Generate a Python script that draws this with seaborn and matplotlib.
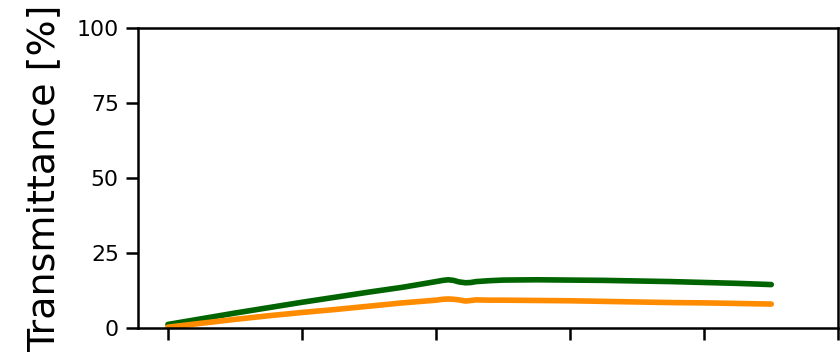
import numpy as np
import pandas as pd
import matplotlib
matplotlib.use("Agg")
import matplotlib.pyplot as plt
import seaborn as sns

# wavelength [nm] and transmittance [%] for the two samples
wavelength = [400, 425, 450, 475, 500, 525, 550, 575, 600, 605, 609, 613, 617, 622, 626,
              630, 640, 650, 675, 700, 725, 750, 775, 800, 825, 850]
trans_green = [1.2, 3.1, 5.0, 6.8, 8.6, 10.3, 12.0, 13.6, 15.5, 15.9, 16.1, 15.9, 15.4, 15.1,
               15.2, 15.5, 15.8, 16.0, 16.1, 16.0, 15.9, 15.7, 15.5, 15.2, 14.9, 14.5]
trans_orange = [0.3, 1.6, 2.9, 4.1, 5.2, 6.2, 7.3, 8.4, 9.3, 9.6, 9.7, 9.6, 9.4, 9.0,
                9.2, 9.4, 9.3, 9.3, 9.2, 9.1, 8.9, 8.7, 8.5, 8.4, 8.2, 8.0]
sample_names = ["green", "orange"]
line_colors = ["#006400", "#FF8C00"]
y_ticks = [0, 25, 50, 75, 100]
x_ticks = [400, 500, 600, 700, 800, 900]

df = pd.DataFrame({
    "wavelength": wavelength * 2,
    "T": trans_green + trans_orange,
    "sample": [sample_names[0]] * len(wavelength) + [sample_names[1]] * len(wavelength),
})

sns.set_theme(style="ticks", context="notebook",
              rc={"text.color": "black", "axes.edgecolor": "black",
                  "axes.labelcolor": "black", "xtick.color": "black",
                  "ytick.color": "black"})
plt.rcParams["font.family"] = ["DejaVu Sans"]

fig = plt.figure(figsize=(840 / 144, 352 / 144), dpi=144)
ax = fig.add_axes([0.164, 0.068, 0.834, 0.852])

sns.lineplot(data=df, x="wavelength", y="T", hue="sample",
             palette=dict(zip(sample_names, line_colors)),
             linewidth=2.8, legend=False, ax=ax)

ax.set_xlim(377.5, 900)
ax.set_ylim(0, 100)
ax.set_yticks(y_ticks)
ax.set_xticks(x_ticks)
ax.set_xticklabels([])
ax.set_xlabel("")
ax.set_ylabel("Transmittance [%]", fontsize=19, labelpad=7)
ax.tick_params(axis="y", labelsize=11)

fig.savefig("out.png", dpi=144)
